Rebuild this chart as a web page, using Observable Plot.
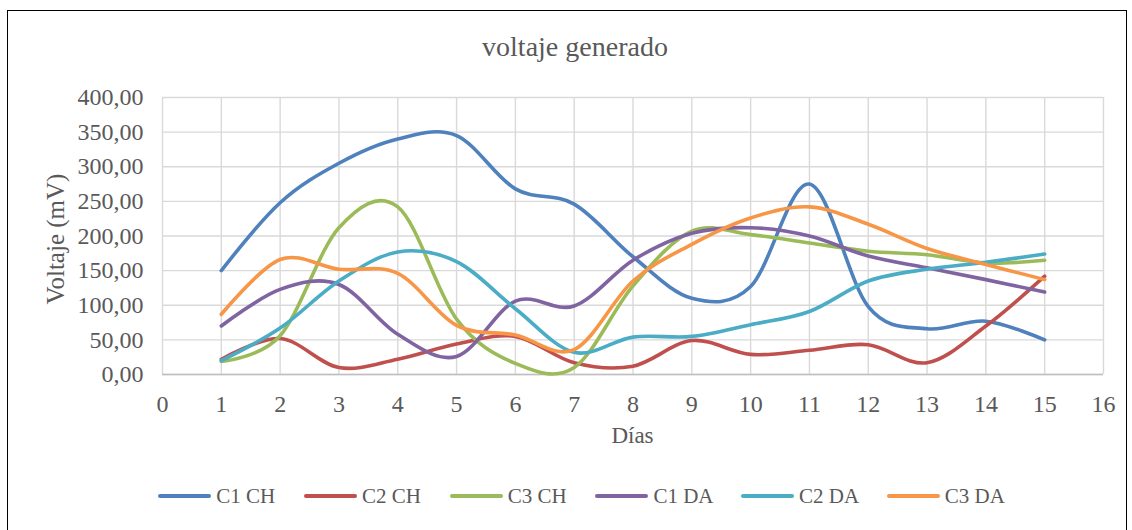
<!DOCTYPE html>
<html>
<head>
<meta charset="utf-8">
<script src="https://cdn.jsdelivr.net/npm/d3@7"></script>
<script src="https://cdn.jsdelivr.net/npm/@observablehq/plot@0.6"></script>
<style>
  html, body { margin: 0; padding: 0; background: #fff; font-family: 'Liberation Serif', serif; }
  #wrap { position: relative; width: 1132px; height: 530px; overflow: hidden; font-family: 'Liberation Serif', serif; color: #595959; }
  #frame { position: absolute; left: 7px; top: 10px; width: 1120px; height: 530px; border: 1.5px solid #000; box-sizing: border-box; }
  #title { position: absolute; left: 0; width: 1150px; top: 31px; text-align: center; font-size: 28px; }
  #chart { position: absolute; left: 0; top: 0; }
  #chart svg text { font-family: 'Liberation Serif', serif; }
  #xlabel { position: absolute; left: 0; width: 1265px; top: 423px; text-align: center; font-size: 23px; }
  #ylabel { position: absolute; left: 56px; top: 239px; transform: translate(-50%, -50%) rotate(-90deg); font-size: 25px; white-space: nowrap; }
  .leg { position: absolute; top: 484px; height: 24px; display: flex; align-items: center; font-size: 21px; white-space: nowrap; }
  .sw { width: 53px; height: 4px; border-radius: 2px; margin-right: 5px; }
</style>
</head>
<body>
<div id="wrap">
  <div id="frame"></div>
  <div id="title">voltaje generado</div>
  <div id="chart"></div>
  <div id="ylabel">Voltaje (mV)</div>
  <div id="xlabel">Días</div>
</div>
<script>
const dias = [1,2,3,4,5,6,7,8,9,10,11,12,13,14,15];
const seriesNames = ["C1 CH","C2 CH","C3 CH","C1 DA","C2 DA","C3 DA"];
const seriesColors = ["#4F81BD","#C0504D","#9BBB59","#8064A2","#4BACC6","#F79646"];
const c1ch = [150,248,305,340,345,268,246,170,110,127,275,98,66,77,50];
const c2ch = [22,52,10,22,44,55,17,12,49,29,35,43,17,70,142];
const c3ch = [19,56,212,242,80,16,10,128,207,202,190,178,173,161,165];
const c1da = [70,123,130,58,26,106,99,165,204,212,200,171,154,137,119];
const c2da = [20,67,135,177,163,95,32,54,55,72,91,135,152,162,174];
const c3da = [87,166,152,146,71,57,36,135,188,226,242,217,182,159,137];
const xTicks = d3.range(0, 17);
const yTicks = d3.range(0, 401, 50);

const allSeries = [c1ch, c2ch, c3ch, c1da, c2da, c3da];
const rows = [];
allSeries.forEach((vals, si) => {
  vals.forEach((v, i) => rows.push({serie: seriesNames[si], dia: dias[i], v}));
});

const fmt = v => v.toFixed(2).replace(".", ",");

const plot = Plot.plot({
  width: 1132,
  height: 460,
  marginLeft: 162,
  marginRight: 29,
  marginTop: 97,
  marginBottom: 86,
  style: {fontFamily: "Liberation Serif, serif", fontSize: "24px", color: "#595959", background: "transparent"},
  x: {domain: [0, 16], ticks: xTicks, label: null},
  y: {domain: [0, 400], ticks: yTicks, label: null},
  color: {domain: seriesNames, range: seriesColors},
  marks: [
    Plot.gridX(xTicks, {stroke: "#d9d9d9", strokeOpacity: 1, strokeWidth: 1.4}),
    Plot.gridY(yTicks, {stroke: "#d9d9d9", strokeOpacity: 1, strokeWidth: 1.4}),
    Plot.ruleY([0], {stroke: "#bfbfbf", strokeWidth: 1.6}),
    Plot.axisX(xTicks, {tickSize: 0, tickPadding: 20, fill: "#595959", fontSize: 24}),
    Plot.axisY(yTicks, {tickSize: 0, tickPadding: 19, tickFormat: fmt, fill: "#595959", fontSize: 24}),
    Plot.line(rows, {x: "dia", y: "v", z: "serie", stroke: "serie", strokeWidth: 3.6, curve: "cardinal", tension: 0, strokeLinecap: "round", strokeLinejoin: "round"})
  ]
});
document.getElementById("chart").appendChild(plot);

const wrap = document.getElementById("wrap");
seriesNames.forEach((name, i) => {
  const item = document.createElement("div");
  item.className = "leg";
  item.style.left = (158.3 + 145.7 * i) + "px";
  const sw = document.createElement("div");
  sw.className = "sw";
  sw.style.background = seriesColors[i];
  const t = document.createElement("span");
  t.textContent = name;
  item.appendChild(sw);
  item.appendChild(t);
  wrap.appendChild(item);
});
</script>
</body>
</html>
